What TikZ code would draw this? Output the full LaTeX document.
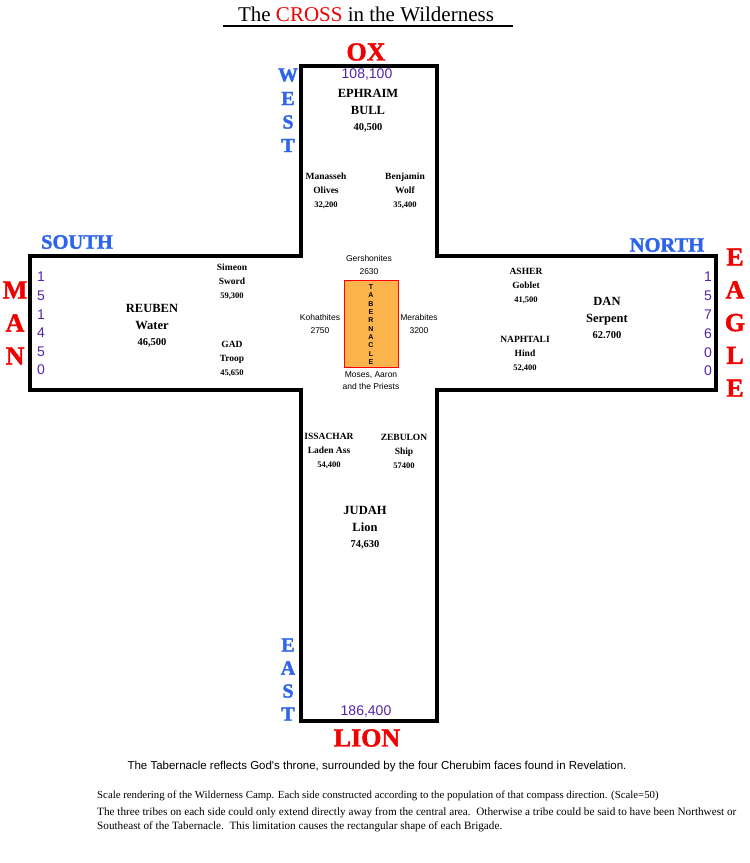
\documentclass[tikz,border=0pt]{standalone}
\usepackage{fontspec}
\setmainfont{Liberation Serif}
\newfontfamily\sansf{Liberation Sans}
\newfontfamily\heavyf[FakeBold=1.6]{Liberation Serif Bold}
\definecolor{dirblue}{RGB}{45,100,235}
\definecolor{facered}{RGB}{240,0,0}
\definecolor{numpurple}{RGB}{85,35,175}
\definecolor{tabfill}{RGB}{251,180,76}
\tikzset{
  dirlbl/.style={text=dirblue, font=\heavyf\fontsize{20.5}{20.5}\selectfont, inner sep=0pt},
  dirletter/.style={text=dirblue, font=\heavyf\fontsize{20}{20}\selectfont, inner sep=0pt},
  facelbl/.style={text=facered, font=\heavyf\fontsize{26}{26}\selectfont, inner sep=0pt},
  popnum/.style={text=numpurple, font=\sansf\fontsize{14}{14}\selectfont, inner sep=0pt},
  maintribe/.style={font=\fontsize{12.5}{16.5}\selectfont\bfseries, align=center, inner sep=0pt},
  subtribe/.style={font=\fontsize{9.5}{14}\selectfont\bfseries, align=center, inner sep=0pt},
  levite/.style={font=\sansf\fontsize{8.5}{12.5}\selectfont, align=center, inner sep=0pt},
  tabletter/.style={font=\sansf\bfseries\fontsize{7}{7}\selectfont, inner sep=0pt},
  note/.style={anchor=west, inner sep=0pt},
  crossline/.style={line width=4pt, line join=miter}
}
\begin{document}
\begin{tikzpicture}[x=1pt,y=-1pt]
\useasboundingbox[fill=white] (0,0) rectangle (750,863);

% title
\node[font=\fontsize{21}{21}\selectfont, inner sep=0pt] (title) at (366,14)
  {The \textcolor{facered}{CROSS} in the Wilderness};
\coordinate (ulL) at (223,26);
\coordinate (ulR) at (513,26);
\draw[line width=1.3pt] (ulL) -- (ulR);

% cross outline
\draw[crossline] (301,66) -- (437,66) -- (437,256) -- (716,256) -- (716,390)
  -- (437,390) -- (437,721) -- (301,721) -- (301,390) -- (30,390)
  -- (30,256) -- (301,256) -- cycle;

% face labels
\node[facelbl] (ox) at (366,52) {OX};
\node[facelbl] (lion) at (367,738) {LION};
\foreach \ch [count=\i] in {M,A,N}
  \node[facelbl] (man\i) at (15,{290+33*(\i-1)}) {\ch};
\foreach \ch [count=\i] in {E,A,G,L,E}
  \node[facelbl] (eagle\i) at (735,{257+32.8*(\i-1)}) {\ch};

% direction labels
\node[dirlbl] (south) at (77,242) {SOUTH};
\node[dirlbl] (north) at (667,245) {NORTH};
\foreach \ch [count=\i] in {W,E,S,T}
  \node[dirletter] (west\i) at (288,{75+23.5*(\i-1)}) {\ch};
\foreach \ch [count=\i] in {E,A,S,T}
  \node[dirletter] (east\i) at (288,{645+23*(\i-1)}) {\ch};

% population numbers
\node[popnum] (popw) at (367,75) {108,100};
\node[popnum] (pope) at (366,711) {186,400};
\foreach \ch [count=\i] in {1,5,1,4,5,0}
  \node[popnum] (pops\i) at (41,{277+18.6*(\i-1)}) {\ch};
\foreach \ch [count=\i] in {1,5,7,6,0,0}
  \node[popnum] (popn\i) at (708,{277+18.8*(\i-1)}) {\ch};

% west brigade
\node[maintribe] (ephraim) at (368,111) {EPHRAIM\\BULL\\{\fontsize{10.5}{16.5}\selectfont 40,500}};
\node[subtribe] (manasseh) at (326,191) {Manasseh\\Olives\\{\fontsize{8.5}{14}\selectfont 32,200}};
\node[subtribe] (benjamin) at (405,191) {Benjamin\\Wolf\\{\fontsize{8.5}{14}\selectfont 35,400}};

% south brigade
\node[maintribe] (reuben) at (152,326) {REUBEN\\Water\\{\fontsize{10.5}{17.5}\selectfont 46,500}};
\node[subtribe] (simeon) at (232,282) {Simeon\\Sword\\{\fontsize{8.5}{14}\selectfont 59,300}};
\node[subtribe] (gad) at (232,359) {GAD\\Troop\\{\fontsize{8.5}{14}\selectfont 45,650}};

% north brigade
\node[subtribe] (asher) at (526,286) {ASHER\\Goblet\\{\fontsize{8.5}{14}\selectfont 41,500}};
\node[subtribe] (naphtali) at (525,354) {NAPHTALI\\Hind\\{\fontsize{8.5}{14}\selectfont 52,400}};
\node[maintribe] (dan) at (607,318) {DAN\\Serpent\\{\fontsize{10.5}{16.5}\selectfont 62.700}};

% east brigade
\node[subtribe] (issachar) at (329,451) {ISSACHAR\\Laden Ass\\{\fontsize{8.5}{14}\selectfont 54,400}};
\node[subtribe] (zebulon) at (404,451) {ZEBULON\\Ship\\{\fontsize{8.5}{14}\selectfont 57400}};
\node[maintribe] (judah) at (365,528) {JUDAH\\Lion\\{\fontsize{10.5}{17}\selectfont 74,630}};

% tabernacle and levites
\node[draw=red, line width=0.9pt, fill=tabfill, minimum width=54pt, minimum height=87pt,
  inner sep=0pt] (tab) at (371,323.5) {};
\foreach \ch [count=\i] in {T,A,B,E,R,N,A,C,L,E}
  \node[tabletter] (tab\i) at (371,{287+8.33*(\i-1)}) {\ch};
\node[levite] (gershon) at (369,265) {Gershonites\\2630};
\node[levite] (kohath) at (320,324) {Kohathites\\2750};
\node[levite] (merari) at (419,324) {Merabites\\3200};
\node[levite] (moses) at (371,380.5) {Moses, Aaron\\and the Priests};

% notes
\node[font=\sansf\fontsize{11.5}{12}\selectfont, inner sep=0pt] (note1) at (377,767)
  {The Tabernacle reflects God's throne, surrounded by the four Cherubim faces found in Revelation.};
\node[note, font=\fontsize{10.8}{13}\selectfont] (note2) at (97,796)
  {Scale rendering of the Wilderness Camp. Each side constructed according to the population of that compass direction. (Scale=50)};
\node[note, align=left, font=\fontsize{11.2}{14}\selectfont] (note3) at (97,820)
  {The three tribes on each side could only extend directly away from the central area.\ \ Otherwise a tribe could be said to have been Northwest or\\
   Southeast of the Tabernacle.\ \ This limitation causes the rectangular shape of each Brigade.};
\end{tikzpicture}
\end{document}
